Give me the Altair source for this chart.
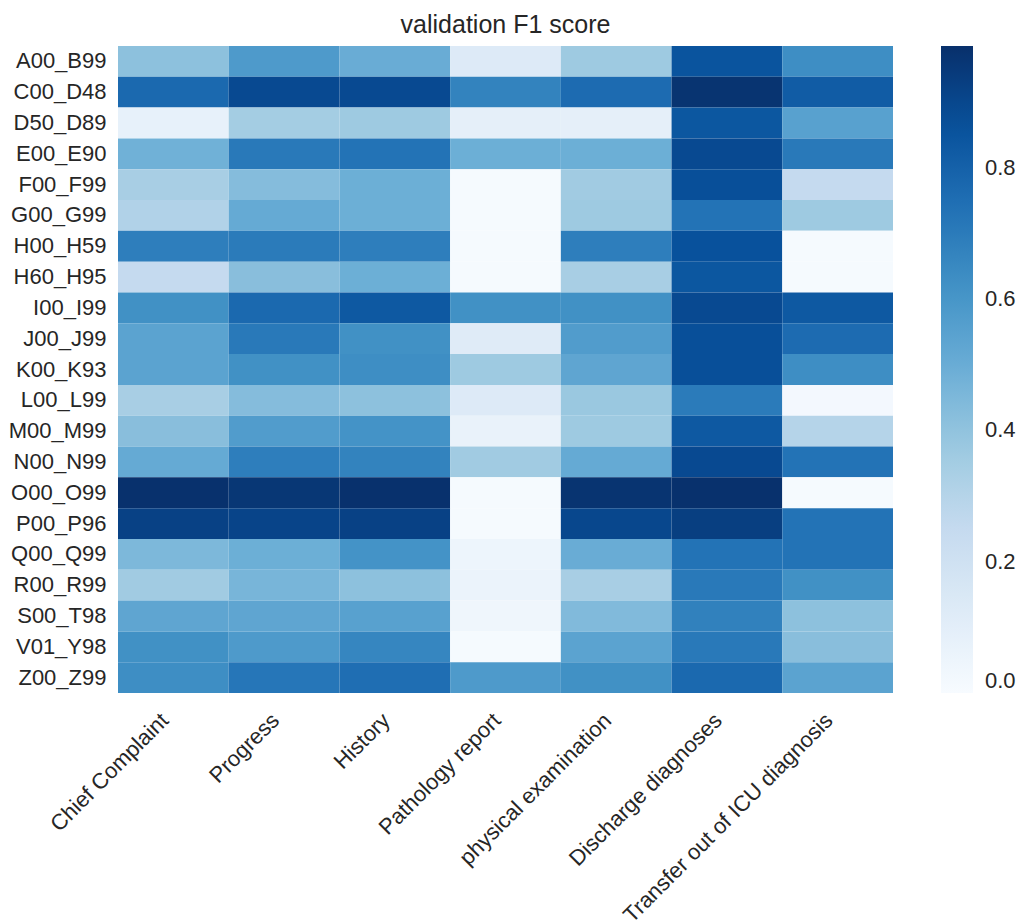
import altair as alt
import pandas as pd

rows = ["A00_B99", "C00_D48", "D50_D89", "E00_E90", "F00_F99", "G00_G99", "H00_H59",
        "H60_H95", "I00_I99", "J00_J99", "K00_K93", "L00_L99", "M00_M99", "N00_N99",
        "O00_O99", "P00_P96", "Q00_Q99", "R00_R99", "S00_T98", "V01_Y98", "Z00_Z99"]
cols = ["Chief Complaint", "Progress", "History", "Pathology report",
        "physical examination", "Discharge diagnoses", "Transfer out of ICU diagnosis"]

chief_complaint = [0.41, 0.77, 0.08, 0.48, 0.34, 0.31, 0.69, 0.25, 0.62, 0.54, 0.54,
                   0.34, 0.42, 0.51, 0.98, 0.92, 0.45, 0.36, 0.53, 0.62, 0.63]
progress = [0.58, 0.89, 0.35, 0.71, 0.43, 0.51, 0.70, 0.42, 0.77, 0.71, 0.62,
            0.43, 0.57, 0.69, 0.96, 0.91, 0.49, 0.46, 0.53, 0.58, 0.72]
history = [0.50, 0.89, 0.37, 0.73, 0.49, 0.49, 0.69, 0.49, 0.83, 0.62, 0.63,
           0.41, 0.61, 0.67, 0.98, 0.92, 0.61, 0.41, 0.55, 0.66, 0.75]
pathology = [0.13, 0.67, 0.09, 0.49, 0.01, 0.01, 0.01, 0.01, 0.62, 0.12, 0.37,
             0.13, 0.07, 0.36, 0.01, 0.01, 0.05, 0.06, 0.04, 0.01, 0.58]
physical = [0.37, 0.76, 0.09, 0.49, 0.36, 0.37, 0.69, 0.34, 0.62, 0.57, 0.53,
            0.38, 0.37, 0.51, 0.97, 0.90, 0.50, 0.34, 0.44, 0.54, 0.62]
discharge = [0.85, 0.97, 0.84, 0.89, 0.87, 0.73, 0.86, 0.84, 0.89, 0.87, 0.87,
             0.70, 0.83, 0.89, 0.98, 0.93, 0.73, 0.71, 0.68, 0.71, 0.77]
transfer = [0.63, 0.82, 0.55, 0.71, 0.25, 0.37, 0.01, 0.01, 0.83, 0.76, 0.63,
            0.02, 0.30, 0.73, 0.01, 0.73, 0.73, 0.62, 0.41, 0.42, 0.54]

series = [chief_complaint, progress, history, pathology, physical, discharge, transfer]

records = []
for c, vals in zip(cols, series):
    for r, v in zip(rows, vals):
        records.append({"row": r, "col": c, "f1": v})
df = pd.DataFrame(records)

vmax = 0.985
blues = ["#f7fbff", "#deebf7", "#c6dbef", "#9ecae1", "#6baed6",
         "#4292c6", "#2171b5", "#08519c", "#08306b"]
stops = [vmax * i / 8 for i in range(9)]

font = "Liberation Sans"
txt = "#262626"

chart = alt.Chart(df).mark_rect().encode(
    x=alt.X("col:N", sort=cols, title=None,
            axis=alt.Axis(labelAngle=-45, labelAlign="right", labelBaseline="bottom",
                          labelFontSize=22, labelPadding=32, ticks=False,
                          domain=False, labelColor=txt, labelFont=font, labelLimit=500)),
    y=alt.Y("row:N", sort=rows, title=None,
            axis=alt.Axis(labelFontSize=22, labelPadding=12, ticks=False, domain=False,
                          labelColor=txt, labelFont=font)),
    color=alt.Color("f1:Q",
                    scale=alt.Scale(domain=stops, range=blues, interpolate="rgb", clamp=True),
                    legend=alt.Legend(title=None, orient="right", offset=48,
                                      gradientLength=647, gradientThickness=32,
                                      values=[0.0, 0.2, 0.4, 0.6, 0.8], format=".1f",
                                      labelFontSize=22, labelColor=txt, labelFont=font,
                                      labelOffset=12, gradientStrokeWidth=0)),
).properties(
    width=775, height=647,
    padding={"left": 0, "top": 5, "right": 0, "bottom": 0},
    title=alt.TitleParams("validation F1 score", fontSize=25, font=font,
                          fontWeight="normal", color=txt, offset=8),
).configure_view(strokeWidth=0)

chart.save("out.html", embed_options={"renderer": "svg", "actions": False})
